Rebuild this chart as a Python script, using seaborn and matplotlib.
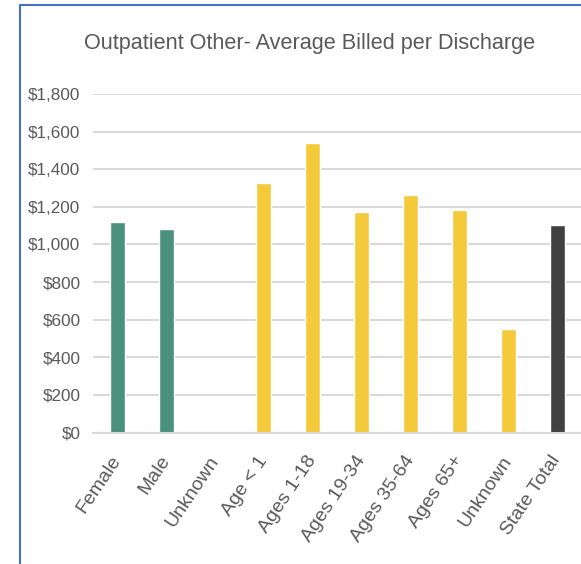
import matplotlib
matplotlib.use("Agg")
import matplotlib.pyplot as plt
from matplotlib.lines import Line2D
from matplotlib.ticker import FuncFormatter
import numpy as np
import pandas as pd
import seaborn as sns

# ---- data ----
labels = ["Female", "Male", "Unknown", "Age < 1", "Ages 1-18", "Ages 19-34",
          "Ages 35-64", "Ages 65+", "Unknown", "State Total"]
groups = ["Gender", "Gender", "Gender", "Age", "Age", "Age", "Age", "Age", "Age", "Total"]
values = [1120, 1081, np.nan, 1327, 1539, 1175, 1265, 1183, 552, 1106]
yticks = [0, 200, 400, 600, 800, 1000, 1200, 1400, 1600, 1800]
title = "Outpatient Other- Average Billed per Discharge"

palette = {"Gender": "#49917a", "Age": "#f4ca3a", "Total": "#404040"}

keys = [f"c{i}" for i in range(len(labels))]
df = pd.DataFrame({"key": keys, "value": values, "group": groups})

sns.set_theme(style="white")
fam = ["Liberation Sans Narrow", "Liberation Sans", "DejaVu Sans"]
plt.rcParams["font.family"] = fam

fig = plt.figure(figsize=(5.81, 5.64), dpi=100)
ax = fig.add_axes([93 / 581, 131.5 / 564, 488.5 / 581, 338.5 / 564])

sns.barplot(data=df, x="key", y="value", hue="group", palette=palette,
            order=keys, dodge=False, width=0.307, legend=False, ax=ax,
            saturation=1)

ax.set_ylim(0, 1800)
ax.set_xlim(-0.5, len(labels) - 0.5)
ax.set_yticks(yticks)
ax.yaxis.set_major_formatter(FuncFormatter(lambda v, p: f"${v:,.0f}"))
ax.set_xticks(range(len(labels)))
ax.set_xticklabels(labels, rotation=56, ha="right", va="center",
                   rotation_mode="anchor")
ax.set_xlabel("")
ax.set_ylabel("")
ax.tick_params(axis="y", length=0, pad=9, labelsize=12.3, labelcolor="#595959")
ax.tick_params(axis="x", length=0, pad=18, labelsize=14, labelcolor="#595959")

ax.grid(axis="y", color="#d9d9d9", linewidth=1.5)
ax.set_axisbelow(True)
for s in ["top", "right", "left"]:
    ax.spines[s].set_visible(False)
ax.spines["bottom"].set_color("#d9d9d9")
ax.spines["bottom"].set_linewidth(1.5)

fig.text(310 / 581, 1 - 44 / 564, title, ha="center", va="center",
         fontsize=15.6, color="#595959")

# chart frame (blue, left and top)
fig.add_artist(Line2D([20 / 581, 20 / 581], [0, 1 - 5 / 564],
                      transform=fig.transFigure, color="#4472c4", linewidth=1.5))
fig.add_artist(Line2D([20 / 581, 1], [1 - 5 / 564, 1 - 5 / 564],
                      transform=fig.transFigure, color="#4472c4", linewidth=1.5))

fig.savefig("out.png", dpi=100)
